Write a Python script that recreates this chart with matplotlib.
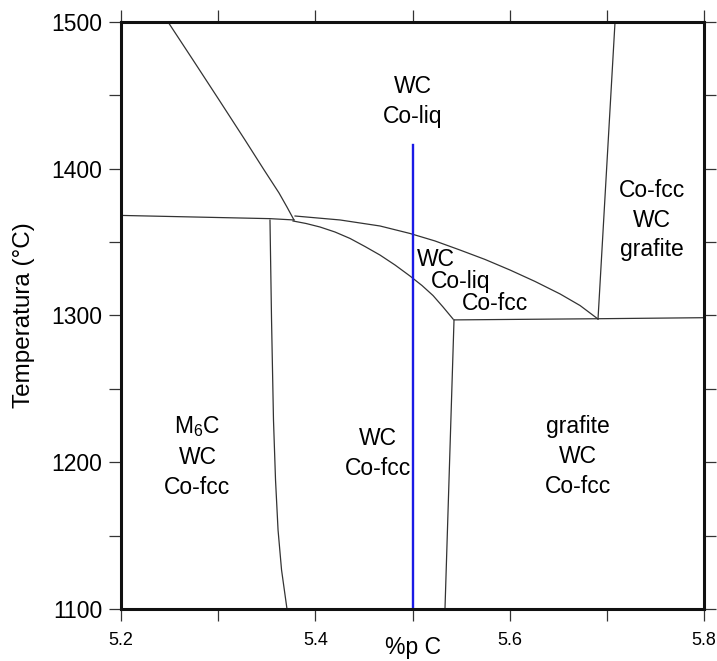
import matplotlib
matplotlib.use("Agg")
import matplotlib.pyplot as plt
from matplotlib.ticker import MultipleLocator, FixedLocator

plt.rcParams['font.family'] = ['Liberation Sans', 'DejaVu Sans']
plt.rcParams['mathtext.fontset'] = 'custom'
plt.rcParams['mathtext.rm'] = 'Liberation Sans'
plt.rcParams['mathtext.it'] = 'Liberation Sans'

# phase boundaries (%p C, temperature ºC)
liq_top_x = [5.2484, 5.2741, 5.3009, 5.3276, 5.3472, 5.3626, 5.3708, 5.3780]
liq_top_y = [1500, 1474.1, 1446.9, 1419.6, 1399.2, 1383.5, 1373.9, 1365.1]

left_h_x = [5.2, 5.3533, 5.3780]
left_h_y = [1368.2, 1366.0, 1365.1]

upper_x = [5.3791, 5.4254, 5.4665, 5.4974, 5.5231, 5.5489, 5.5746, 5.6003,
           5.6261, 5.6518, 5.6724, 5.6909]
upper_y = [1367.8, 1365.1, 1361.0, 1355.9, 1350.8, 1344.6, 1338.2, 1331.0,
           1323.2, 1314.7, 1306.8, 1297.6]

lower_x = [5.3770, 5.3904, 5.4048, 5.4202, 5.4357, 5.4511, 5.4665, 5.4820,
           5.4974, 5.5098, 5.5211, 5.5314, 5.5417]
lower_y = [1364.4, 1362.7, 1360.3, 1356.9, 1352.5, 1347.0, 1341.2, 1334.4,
           1326.9, 1320.4, 1313.6, 1305.8, 1297.6]

left_v_x = [5.3533, 5.3549, 5.3569, 5.3590, 5.3616, 5.3652, 5.3708]
left_v_y = [1365.0, 1296.9, 1228.8, 1187.9, 1153.8, 1126.6, 1100]

mid_v_x = [5.5427, 5.5334]
mid_v_y = [1297.0, 1100]

eut_x = [5.5427, 5.6909, 5.8]
eut_y = [1297.0, 1297.8, 1298.5]

right_v_x = [5.7084, 5.6909]
right_v_y = [1500, 1297.6]

# composition line
comp_x = 5.5
comp_y = [1100, 1416]

fig = plt.figure(figsize=(7.17, 6.61), dpi=100)
ax = fig.add_axes([0.1688, 0.0787, 0.8131, 0.888])

lc = '#333333'
for xs, ys in [(liq_top_x, liq_top_y), (left_h_x, left_h_y), (upper_x, upper_y),
               (lower_x, lower_y), (left_v_x, left_v_y), (mid_v_x, mid_v_y),
               (eut_x, eut_y), (right_v_x, right_v_y)]:
    ax.plot(xs, ys, color=lc, lw=0.9, solid_joinstyle='round')

ax.plot([comp_x, comp_x], comp_y, color='#1a1ae6', lw=1.7)

fs = 16.5
ls = 1.38
ax.text(5.5, 1446, 'WC\nCo-liq', ha='center', va='center', fontsize=fs, linespacing=ls)
ax.text(5.7465, 1365, 'Co-fcc\nWC\ngrafite', ha='center', va='center', fontsize=fs, linespacing=ls)
ax.text(5.2787, 1204, 'M$_6$C\nWC\nCo-fcc', ha='center', va='center', fontsize=fs, linespacing=ls)
ax.text(5.4645, 1206, 'WC\nCo-fcc', ha='center', va='center', fontsize=fs, linespacing=ls)
ax.text(5.670, 1204, 'grafite\nWC\nCo-fcc', ha='center', va='center', fontsize=fs, linespacing=ls)
ax.text(5.5046, 1338, 'WC', ha='left', va='center', fontsize=fs)
ax.text(5.5189, 1323, 'Co-liq', ha='left', va='center', fontsize=fs)
ax.text(5.5505, 1308, 'Co-fcc', ha='left', va='center', fontsize=fs)

ax.set_xlim(5.2, 5.8)
ax.set_ylim(1100, 1500)

ax.xaxis.set_major_locator(FixedLocator([5.2, 5.4, 5.6, 5.8]))
ax.xaxis.set_minor_locator(FixedLocator([5.3, 5.5, 5.7]))
ax.yaxis.set_major_locator(MultipleLocator(100))
ax.yaxis.set_minor_locator(MultipleLocator(50))
ax.set_xticklabels(['5.2', '5.4', '5.6', '5.8'])

ax.tick_params(which='both', direction='out', length=8.5, width=0.9, color='#333333',
               top=True, right=True)
ax.tick_params(axis='x', labelsize=13, pad=8)
ax.tick_params(axis='y', labelsize=16.5, pad=5)

for s in ax.spines.values():
    s.set_linewidth(2.2)
    s.set_color('#111111')

ax.set_xlabel('%p C', fontsize=16.5, labelpad=-9)
ax.set_ylabel('Temperatura (°C)', fontsize=17.5, labelpad=12)

fig.savefig('out.png', dpi=100)
